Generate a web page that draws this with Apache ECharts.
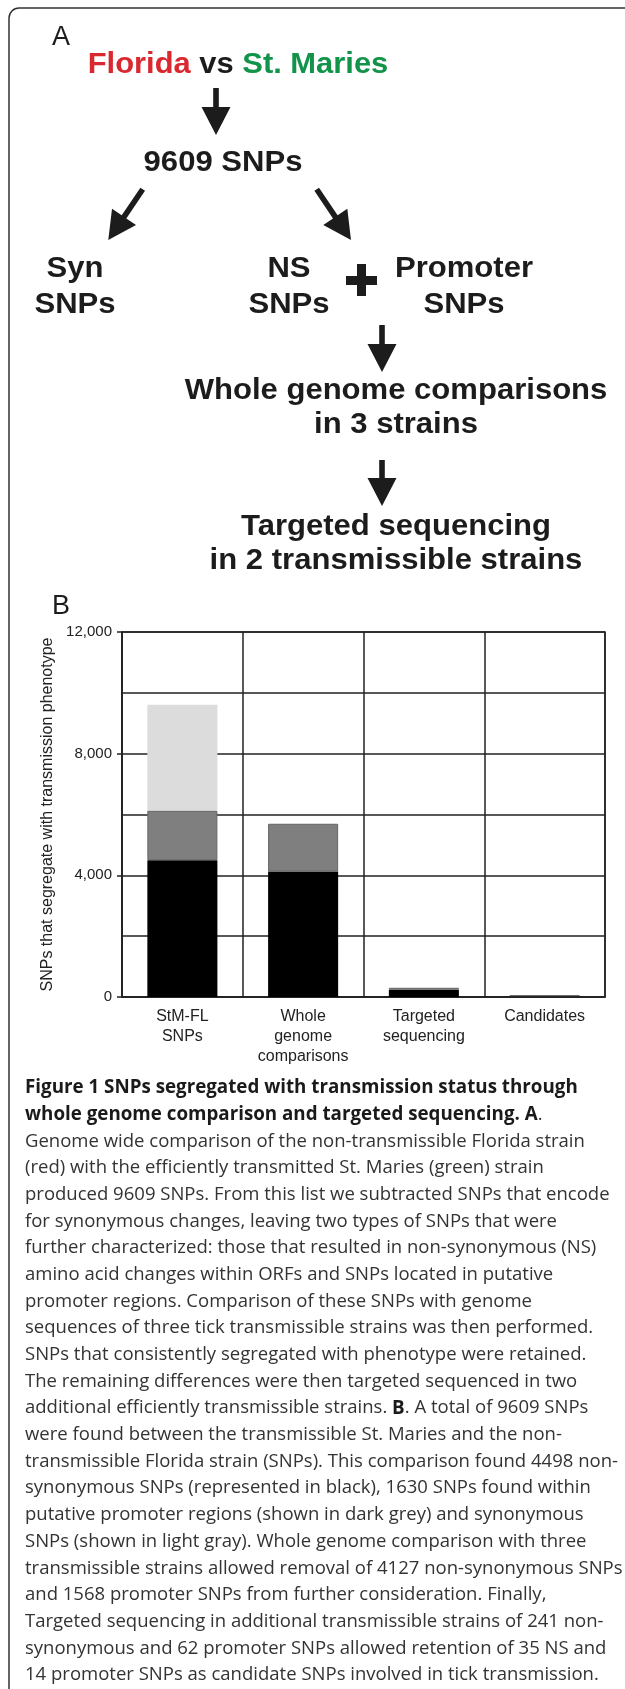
<!DOCTYPE html>
<html>
<head>
<meta charset="utf-8">
<title>Figure 1</title>
<script src="https://cdn.jsdelivr.net/npm/echarts/dist/echarts.min.js"></script>
<style>
  html, body { margin: 0; padding: 0; background: #fff; }
  #chart { width: 625px; height: 1689px; }
</style>
</head>
<body>
<div id="chart"></div>
<script>
// 柱状图数据 (panel B)
var categories = ["StM-FL\nSNPs", "Whole\ngenome\ncomparisons", "Targeted\nsequencing", "Candidates"];
var nsSnps = [4498, 4127, 241, 35];        // black
var promoterSnps = [1630, 1568, 62, 14];   // dark grey
var synSnps = [3481, 0, 0, 0];             // light grey

var yAxisTitle = "SNPs that segregate with transmission phenotype";

// caption lines, wrapped as in the figure
var captionLines = [
  "{b|Figure 1 SNPs segregated with transmission status through}",
  "{b|whole genome comparison and targeted sequencing. A}.",
  "Genome wide comparison of the non-transmissible Florida strain",
  "(red) with the efficiently transmitted St. Maries (green) strain",
  "produced 9609 SNPs. From this list we subtracted SNPs that encode",
  "for synonymous changes, leaving two types of SNPs that were",
  "further characterized: those that resulted in non-synonymous (NS)",
  "amino acid changes within ORFs and SNPs located in putative",
  "promoter regions. Comparison of these SNPs with genome",
  "sequences of three tick transmissible strains was then performed.",
  "SNPs that consistently segregated with phenotype were retained.",
  "The remaining differences were then targeted sequenced in two",
  "additional efficiently transmissible strains. {b|B}. A total of 9609 SNPs",
  "were found between the transmissible St. Maries and the non-",
  "transmissible Florida strain (SNPs). This comparison found 4498 non-",
  "synonymous SNPs (represented in black), 1630 SNPs found within",
  "putative promoter regions (shown in dark grey) and synonymous",
  "SNPs (shown in light gray). Whole genome comparison with three",
  "transmissible strains allowed removal of 4127 non-synonymous SNPs",
  "and 1568 promoter SNPs from further consideration. Finally,",
  "Targeted sequencing in additional transmissible strains of 241 non-",
  "synonymous and 62 promoter SNPs allowed retention of 35 NS and",
  "14 promoter SNPs as candidate SNPs involved in tick transmission."
];

var ARIAL = "Liberation Sans, Arial, sans-serif";
var CAPTION_FONT = "'Open Sans', sans-serif";
var INK = "#1c1c1c";

// 根据参考图中的行宽换算字号
var measureCtx = document.createElement("canvas").getContext("2d");
function fitFontSize(text, weight, family, targetWidth) {
  measureCtx.font = weight + " 20px " + family;
  return 20 * targetWidth / measureCtx.measureText(text).width;
}
function plain(s) {
  return s.replace(/\{b\|([^}]*)\}/g, "$1");
}
var captionSize = fitFontSize(plain(captionLines[4]), "normal", CAPTION_FONT, 585);
var captionBoldSize = fitFontSize(plain(captionLines[0]), "bold", CAPTION_FONT, 553);

/**
 * 箭头多边形: 从 (x0,y0) 指向 (x1,y1)
 */
function arrowPoints(x0, y0, x1, y1, shaftHalf, headLen, headHalf) {
  var dx = x1 - x0, dy = y1 - y0;
  var len = Math.sqrt(dx * dx + dy * dy);
  var ux = dx / len, uy = dy / len;
  var px = -uy, py = ux;
  var bx = x1 - ux * headLen, by = y1 - uy * headLen;
  return [
    [x0 + px * shaftHalf, y0 + py * shaftHalf],
    [bx + px * shaftHalf, by + py * shaftHalf],
    [bx + px * headHalf, by + py * headHalf],
    [x1, y1],
    [bx - px * headHalf, by - py * headHalf],
    [bx - px * shaftHalf, by - py * shaftHalf],
    [x0 - px * shaftHalf, y0 - py * shaftHalf]
  ];
}

function arrow(x0, y0, x1, y1) {
  return {
    type: "polygon",
    shape: { points: arrowPoints(x0, y0, x1, y1, 2.8, 28, 14.5) },
    style: { fill: INK }
  };
}

function boldLabel(text, x, y) {
  return {
    type: "text",
    x: x,
    y: y,
    scaleX: 1.035,
    style: {
      text: text,
      fontFamily: ARIAL,
      fontSize: 30,
      fontWeight: "bold",
      fill: INK,
      align: "center",
      verticalAlign: "middle"
    }
  };
}

// panel A flow chart + frame + caption
var graphics = [
  {
    type: "rect",
    shape: { x: 9, y: 8, width: 800, height: 2000, r: 10 },
    style: { fill: "transparent", stroke: "#333", lineWidth: 1.5 }
  },
  {
    type: "text", x: 52, y: 38,
    style: { text: "A", fontFamily: ARIAL, fontSize: 27, fill: INK, align: "left", verticalAlign: "middle" }
  },
  {
    type: "text", x: 238, y: 65, scaleX: 1.03,
    style: {
      text: "{r|Florida} vs {g|St. Maries}",
      fontFamily: ARIAL, fontSize: 30, fontWeight: "bold", fill: INK,
      align: "center", verticalAlign: "middle",
      rich: {
        r: { fill: "#d9282f", fontFamily: ARIAL, fontSize: 30, fontWeight: "bold" },
        g: { fill: "#12934a", fontFamily: ARIAL, fontSize: 30, fontWeight: "bold" }
      }
    }
  },
  arrow(216, 88, 216, 135),
  boldLabel("9609 SNPs", 223, 163),
  arrow(142.7, 189.3, 108.3, 240),
  arrow(316.7, 189.3, 351, 240),
  boldLabel("Syn", 75, 269),
  boldLabel("SNPs", 75, 305),
  boldLabel("NS", 289, 269),
  boldLabel("SNPs", 289, 305),
  { type: "rect", shape: { x: 346, y: 276, width: 31, height: 9 }, style: { fill: INK } },
  { type: "rect", shape: { x: 357, y: 264, width: 9, height: 32 }, style: { fill: INK } },
  boldLabel("Promoter", 464, 269),
  boldLabel("SNPs", 464, 305),
  arrow(382, 325, 382, 372),
  boldLabel("Whole genome comparisons", 396, 391),
  boldLabel("in 3 strains", 396, 425),
  arrow(382, 460, 382, 506),
  boldLabel("Targeted sequencing", 396, 527),
  boldLabel("in 2 transmissible strains", 396, 561),
  {
    type: "text", x: 52, y: 607,
    style: { text: "B", fontFamily: ARIAL, fontSize: 27, fill: INK, align: "left", verticalAlign: "middle" }
  }
];

for (var i = 0; i < captionLines.length; i++) {
  graphics.push({
    type: "text",
    x: 25,
    y: 1088 + i * 26.68,
    style: {
      text: captionLines[i],
      fontFamily: CAPTION_FONT,
      fontSize: captionSize,
      fill: "#333",
      align: "left",
      verticalAlign: "middle",
      rich: {
        b: { fontFamily: CAPTION_FONT, fontSize: captionBoldSize, fontWeight: "bold", fill: "#1a1a1a" }
      }
    }
  });
}

var lineDark = { color: "#222", width: 1.5 };

var option = {
  backgroundColor: "#fff",
  animation: false,
  grid: {
    left: 122, right: 20, top: 632, bottom: 692,
    show: true, borderColor: "#222", borderWidth: 1.5
  },
  xAxis: {
    type: "category",
    data: categories,
    axisLine: { lineStyle: lineDark },
    axisTick: { show: false },
    axisLabel: { margin: 10, color: "#222", fontFamily: ARIAL, fontSize: 16, lineHeight: 20, interval: 0 },
    splitLine: { show: true, interval: 0, lineStyle: lineDark }
  },
  yAxis: {
    type: "value",
    min: 0,
    max: 12000,
    interval: 4000,
    name: yAxisTitle,
    nameLocation: "middle",
    nameGap: 66,
    nameTextStyle: { color: "#222", fontFamily: ARIAL, fontSize: 16 },
    axisLine: { show: true, lineStyle: lineDark },
    axisTick: { show: true, length: 5, lineStyle: lineDark },
    axisLabel: {
      margin: 10, color: "#222", fontFamily: ARIAL, fontSize: 15,
      formatter: function (v) {
        return String(v).replace(/\B(?=(\d{3})+(?!\d))/g, ",");
      }
    },
    splitLine: { show: true, lineStyle: lineDark },
    minorTick: { show: false, splitNumber: 2 },
    minorSplitLine: { show: true, lineStyle: lineDark }
  },
  series: [
    {
      name: "NS",
      type: "bar",
      stack: "snp",
      barWidth: "58%",
      itemStyle: { color: "#000" },
      data: nsSnps
    },
    {
      name: "Promoter",
      type: "bar",
      stack: "snp",
      itemStyle: { color: "#7f7f7f", borderColor: "#666", borderWidth: 1 },
      data: promoterSnps
    },
    {
      name: "Syn",
      type: "bar",
      stack: "snp",
      itemStyle: { color: "#dcdcdc" },
      data: synSnps
    }
  ],
  graphic: graphics
};

var chart = echarts.init(document.getElementById("chart"));
chart.setOption(option);
</script>
</body>
</html>
